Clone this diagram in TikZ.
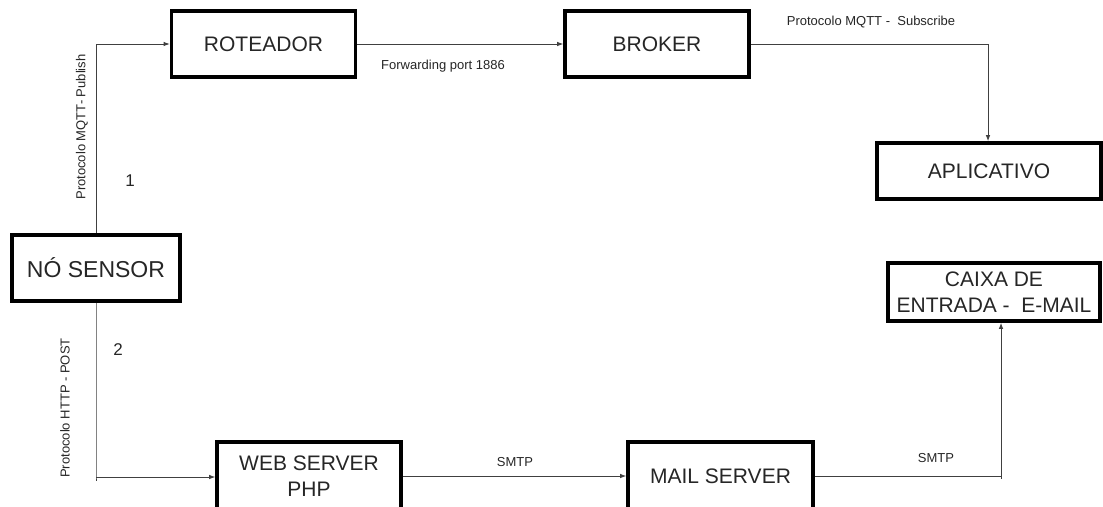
\documentclass[tikz,border=0pt]{standalone}
\usepackage{fontspec}
\setmainfont{Liberation Sans}
\usetikzlibrary{arrows.meta}

\tikzset{
  box/.style={draw=black, line width=3.6pt, rectangle, inner sep=0pt,
    align=center, text=black!85, font=\fontsize{21}{26}\selectfont},
  link/.style={line width=0.9pt, draw=black!75},
  arr/.style={link, -{Latex[length=6pt,width=4.5pt]}},
  lbl/.style={inner sep=0pt, text=black!85, font=\fontsize{13}{15}\selectfont},
  num/.style={inner sep=0pt, text=black!85, font=\fontsize{17}{19}\selectfont}
}

\begin{document}
\begin{tikzpicture}[x=1pt, y=-1pt]
  \clip (0,0) rectangle (1103,506);
  \fill[white] (0,0) rectangle (1103,506);

  % boxes
  \node[box, minimum width=184pt, minimum height=66pt] (rot) at (263.5,44) {ROTEADOR};
  \node[box, minimum width=184pt, minimum height=66pt] (brk) at (657,44) {BROKER};
  \node[box, minimum width=224pt, minimum height=56pt] (app) at (989,171) {APLICATIVO};
  \node[box, minimum width=212pt, minimum height=58pt] (cx) at (994,292) {CAIXA DE\\ENTRADA -~~E-MAIL};
  \node[box, minimum width=168pt, minimum height=66pt, font=\fontsize{23}{27}\selectfont] (ns) at (96,268) {NÓ SENSOR};
  \node[box, minimum width=184pt, minimum height=68pt] (web) at (309,476) {WEB SERVER\\PHP};
  \node[box, minimum width=185pt, minimum height=68pt] (mail) at (720.5,476) {MAIL SERVER};

  % bends of the connectors
  \coordinate (c1) at (96,44);
  \coordinate (c2) at (96,477);
  \coordinate (c3) at (988,44);
  \coordinate (c4) at (1001,476);

  % connectors
  \draw[link] (ns.north) -- (c1);
  \draw[arr] (c1) -- (rot.west);
  \draw[arr] (rot.east) -- (brk.west);
  \draw[link] (brk.east) -- (c3);
  \draw[arr] (c3) -- (app.north -| c3);
  \draw[link] (ns.south) -- (c2) -- ++(0,4);
  \draw[arr] (c2) -- (web.west |- c2);
  \draw[arr] (web.east) -- (mail.west);
  \draw[link] (mail.east) -- (c4) -- ++(0,3);
  \draw[arr] (c4) -- (cx.south -| c4);

  % labels
  \node[lbl] (fw) at (443,66) {Forwarding port 1886};
  \node[lbl] (sub) at (871,22) {Protocolo MQTT -~~Subscribe};
  \node[lbl, rotate=90] (pub) at (82,127) {Protocolo MQTT- Publish};
  \node[lbl, rotate=90] (post) at (65,408) {Protocolo HTTP - POST};
  \node[num] (n1) at (130,181) {1};
  \node[num] (n2) at (118,350) {2};
  \node[lbl] (smtp1) at (515,462) {SMTP};
  \node[lbl] (smtp2) at (936,458) {SMTP};
\end{tikzpicture}
\end{document}
